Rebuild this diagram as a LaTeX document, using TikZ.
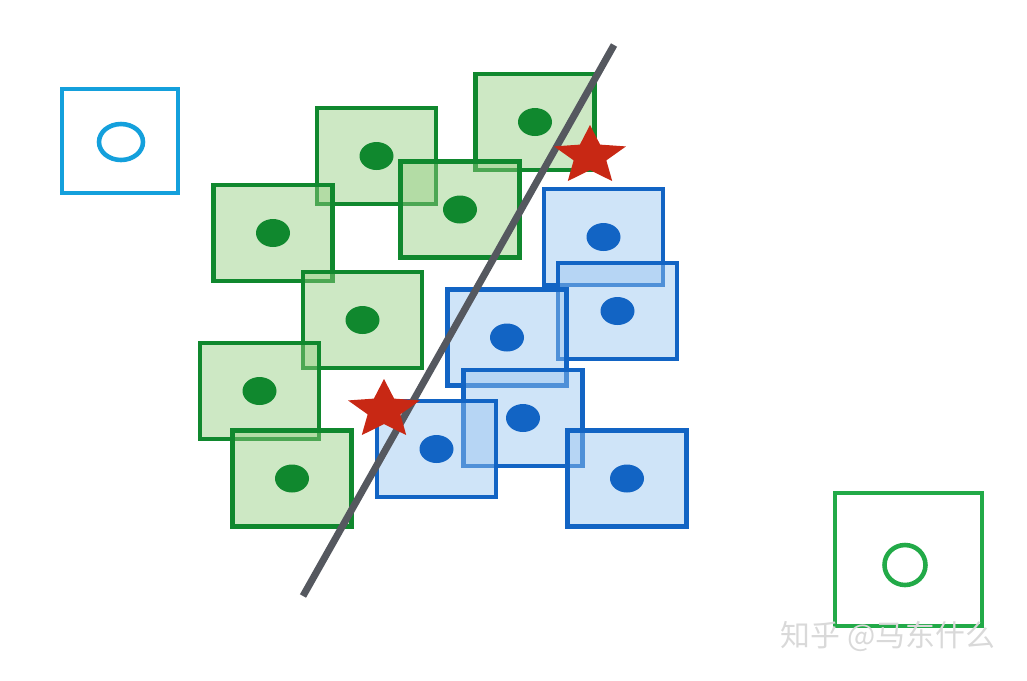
\documentclass[tikz,border=0pt]{standalone}
\usepackage{fontspec}
\newfontfamily\cjk{Noto Sans CJK SC}
\usetikzlibrary{shapes.geometric}
\definecolor{cellgreen}{RGB}{16,136,46}
\definecolor{fillgreen}{RGB}{147,205,127}
\definecolor{cellblue}{RGB}{18,100,196}
\definecolor{fillblue}{RGB}{151,196,240}
\definecolor{skyline}{RGB}{20,160,220}
\definecolor{newgreen}{RGB}{34,170,72}
\definecolor{splitgray}{RGB}{85,88,95}
\definecolor{starred}{RGB}{200,40,20}
\tikzset{
  cell/.style={draw, line width=1.3pt, minimum width=1.19cm, minimum height=0.96cm, inner sep=0pt, fill opacity=0.46},
  greencell/.style={cell, draw=cellgreen, fill=fillgreen},
  bluecell/.style={cell, draw=cellblue, fill=fillblue},
  greendot/.style={ellipse, fill=cellgreen, minimum width=0.34cm, minimum height=0.28cm, inner sep=0pt},
  bluedot/.style={ellipse, fill=cellblue, minimum width=0.34cm, minimum height=0.28cm, inner sep=0pt},
  starmark/.style={star, star points=5, star point ratio=2.2, fill=starred, minimum size=0.62cm, inner sep=0pt, xscale=1.22}
}
\begin{document}
\begin{tikzpicture}
  \useasboundingbox (0,0) rectangle (10.27,6.80);
  % class one
  \foreach \name/\pos in {ga/{(3.765,5.24)}, gb/{(5.35,5.58)}, gc/{(4.60,4.705)}, gd/{(2.73,4.47)},
                          ge/{(3.625,3.60)}, gf/{(2.595,2.89)}, gg/{(2.92,2.015)}}{
    \node[greencell] (\name) at \pos {};
    \node[greendot] at (\name.center) {};
  }
  % class two
  \foreach \name/\pos in {ba/{(6.035,4.43)}, bb/{(6.175,3.69)}, bc/{(5.07,3.425)},
                          bd/{(5.23,2.62)}, be/{(4.365,2.31)}, bf/{(6.27,2.015)}}{
    \node[bluecell] (\name) at \pos {};
    \node[bluedot] at (\name.center) {};
  }
  % new samples
  \node[draw=skyline, line width=1.3pt, minimum width=1.16cm, minimum height=1.04cm] (qa) at (1.20,5.39) {};
  \draw[skyline, line width=1.3pt] (1.21,5.38) ellipse (0.22 and 0.18);
  \node[draw=newgreen, line width=1.3pt, minimum width=1.47cm, minimum height=1.33cm] (qb) at (9.085,1.205) {};
  \draw[newgreen, line width=1.3pt] (9.05,1.15) ellipse (0.205 and 0.20);
  % separating line
  \coordinate (top) at (6.14,6.35);
  \coordinate (bot) at (3.03,0.84);
  \draw[splitgray, line width=2pt] (bot) -- (top);
  % support points
  \node[starmark] (sa) at (5.90,5.24) {};
  \node[starmark] (sb) at (3.84,2.70) {};
  \node[text=gray!30, font=\cjk\fontsize{8.5}{10}\selectfont] (mark) at (8.88,0.44) {知乎 @马东什么};
\end{tikzpicture}
\end{document}
